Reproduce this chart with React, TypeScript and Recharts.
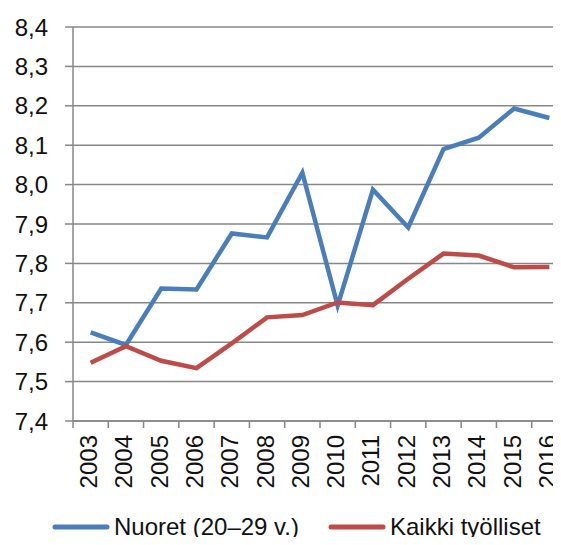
import React from "react";
import { CartesianGrid, Legend, Line, LineChart, XAxis, YAxis } from "recharts";

const years = [
  "2003", "2004", "2005", "2006", "2007", "2008", "2009",
  "2010", "2011", "2012", "2013", "2014", "2015", "2016",
];
const nuoret = [
  7.625, 7.593, 7.736, 7.734, 7.876, 7.866, 8.03,
  7.693, 7.987, 7.891, 8.09, 8.119, 8.193, 8.169,
];
const kaikki = [
  7.548, 7.59, 7.553, 7.534, 7.597, 7.663, 7.669,
  7.701, 7.694, 7.761, 7.825, 7.82, 7.79, 7.791,
];
const yTicks = [7.4, 7.5, 7.6, 7.7, 7.8, 7.9, 8.0, 8.1, 8.2, 8.3, 8.4];

const data = years.map((year, i) => ({ year, nuoret: nuoret[i], kaikki: kaikki[i] }));

const FONT = "'Liberation Sans', Arial, sans-serif";
const GRID = "#878787";
const BLUE = "#4a7ebb";
const RED = "#be4b48";

const fmt = (v: number) => v.toFixed(1).replace(".", ",");

function YearTick(props: any) {
  const { x, y, payload } = props;
  const half = payload && payload.offset ? payload.offset : 17.65;
  return (
    <g>
      <line x1={x - half} x2={x - half} y1={y} y2={y + 7} stroke={GRID} strokeWidth={1.5} />
      <text
        x={0}
        y={0}
        transform={`translate(${x - 2},${y + 14}) rotate(-90)`}
        textAnchor="end"
        dominantBaseline="central"
        fontSize={24}
        fontFamily={FONT}
        fill="#111"
      >
        {payload.value}
      </text>
    </g>
  );
}

function LegendBox() {
  const items = [
    { label: "Nuoret (20–29 v.)", color: BLUE, left: 52 },
    { label: "Kaikki työlliset", color: RED, left: 328 },
  ];
  return (
    <div style={{ position: "relative", height: 40, fontFamily: FONT, fontSize: 24, color: "#111" }}>
      {items.map((it) => (
        <div
          key={it.label}
          style={{ position: "absolute", left: it.left, top: 12, display: "flex", alignItems: "center", whiteSpace: "nowrap" }}
        >
          <svg width={58} height={10}>
            <line x1={3} x2={55} y1={5} y2={5} stroke={it.color} strokeWidth={5} strokeLinecap="round" />
          </svg>
          <span style={{ marginLeft: 4, lineHeight: "28px" }}>{it.label}</span>
        </div>
      ))}
    </div>
  );
}

export default function App() {
  return (
    <div style={{ margin: -8, width: 561, height: 545, overflow: "hidden", background: "#fff" }}>
      <LineChart
        width={575}
        height={545}
        data={data}
        margin={{ top: 27, right: 8, bottom: 4, left: 0 }}
      >
        <CartesianGrid vertical={false} stroke={GRID} strokeWidth={1.5} />
        <XAxis
          dataKey="year"
          scale="band"
          interval={0}
          height={80}
          tickSize={0}
          tickMargin={0}
          axisLine={{ stroke: GRID, strokeWidth: 1.5 }}
          tickLine={false}
          tick={<YearTick />}
        />
        <YAxis
          domain={[7.4, 8.4]}
          ticks={yTicks}
          width={73}
          tickSize={8}
          tickMargin={17}
          tickFormatter={fmt}
          axisLine={{ stroke: GRID, strokeWidth: 1.5 }}
          tickLine={{ stroke: GRID, strokeWidth: 1.5 }}
          tick={{ fontSize: 24, fontFamily: FONT, fill: "#111" }}
          allowDataOverflow
        />
        <Legend verticalAlign="bottom" height={40} content={<LegendBox />} />
        <Line
          dataKey="nuoret"
          name="Nuoret (20–29 v.)"
          stroke={BLUE}
          strokeWidth={4.5}
          dot={false}
          isAnimationActive={false}
        />
        <Line
          dataKey="kaikki"
          name="Kaikki työlliset"
          stroke={RED}
          strokeWidth={4.5}
          dot={false}
          isAnimationActive={false}
        />
      </LineChart>
    </div>
  );
}
